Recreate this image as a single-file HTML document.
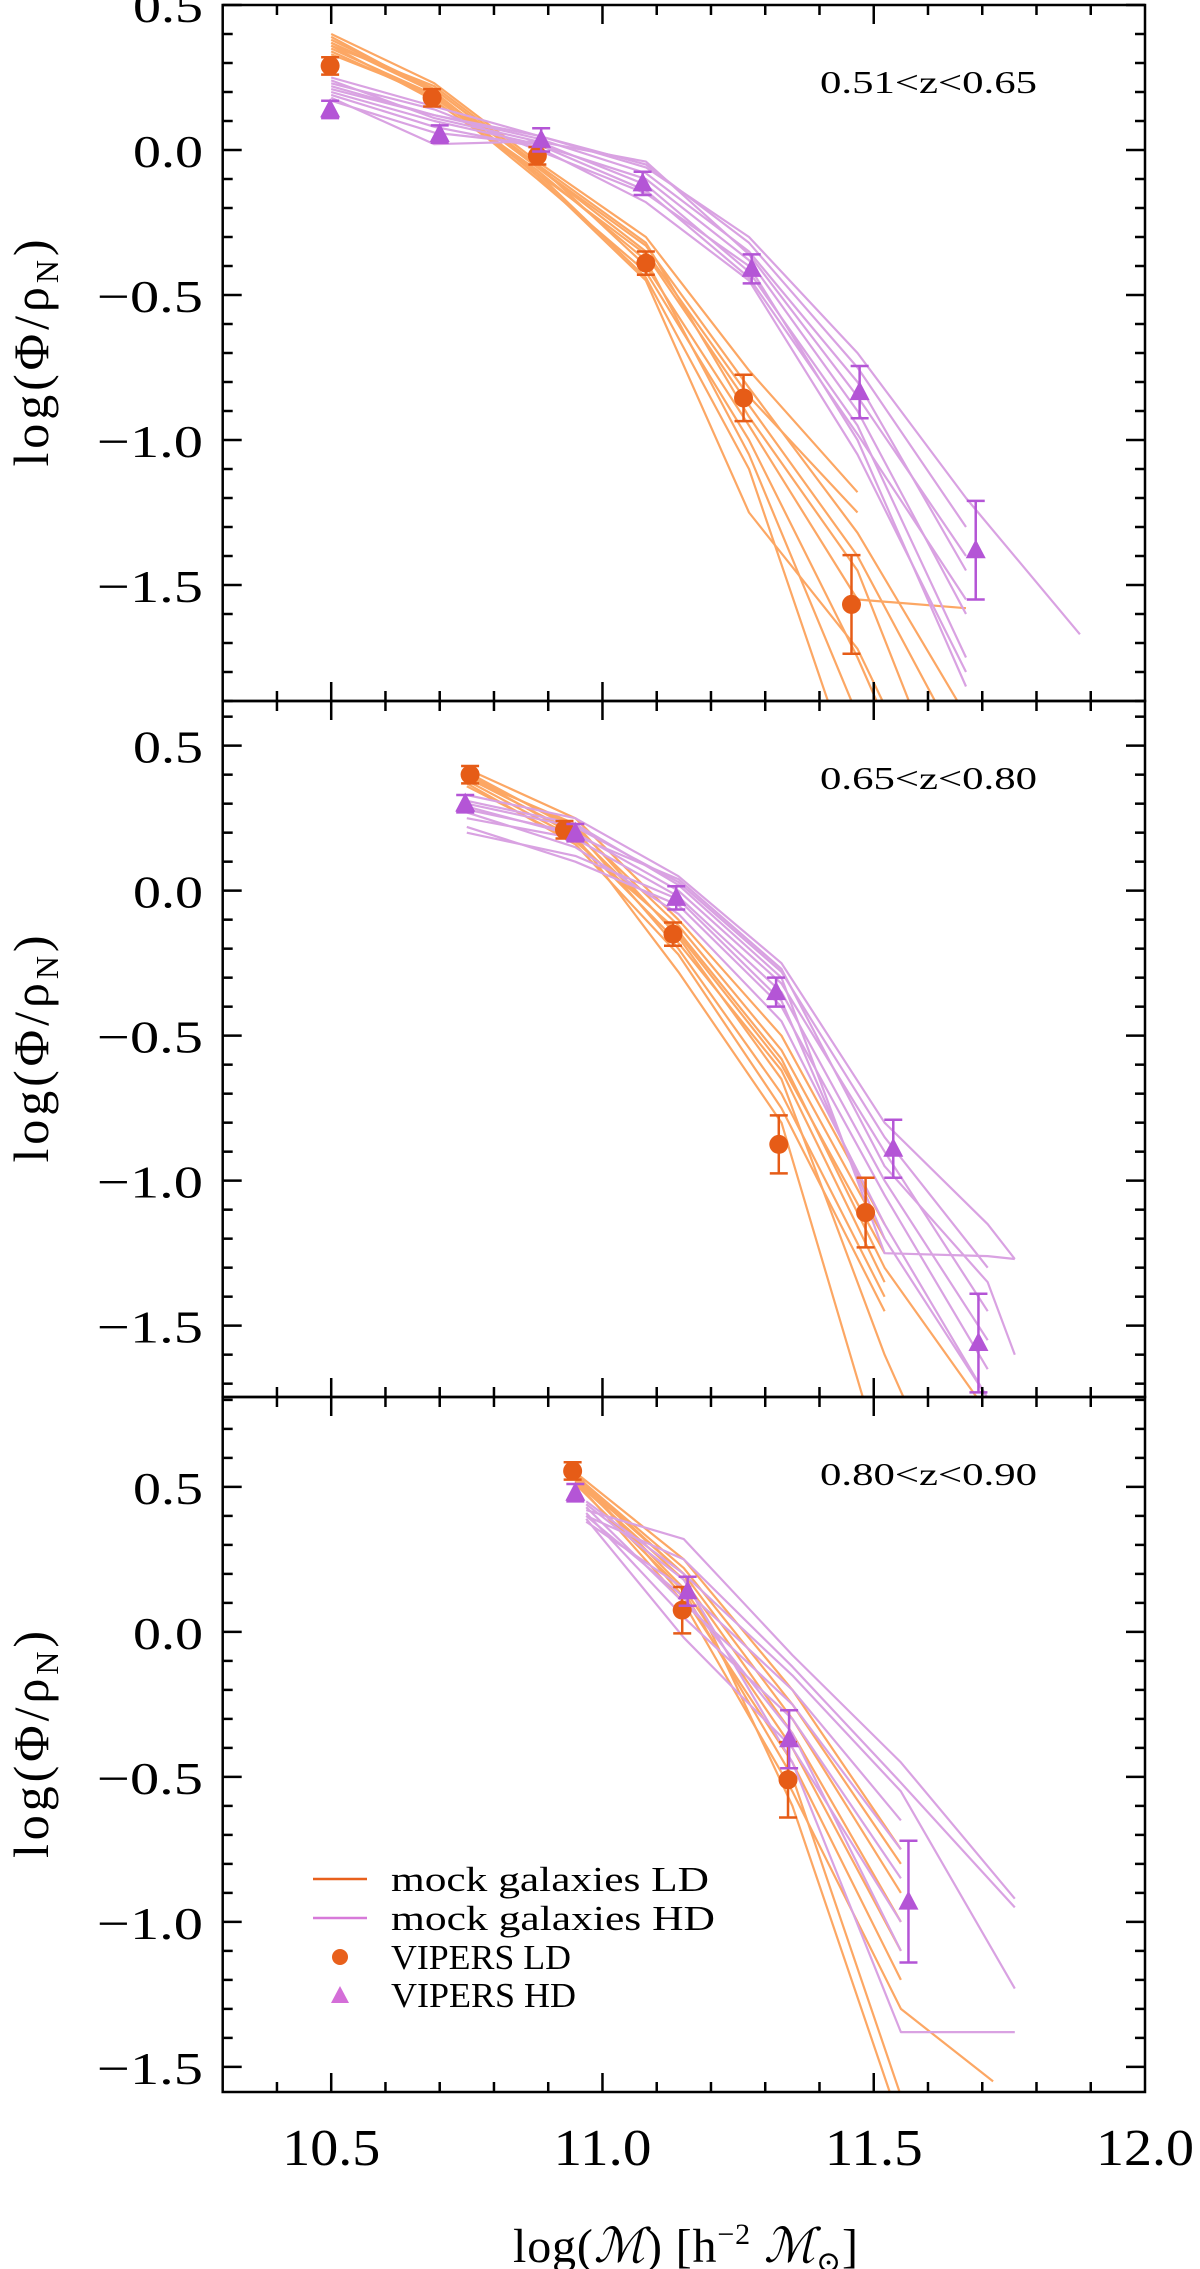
<!DOCTYPE html>
<html><head><meta charset="utf-8"><style>
html,body{margin:0;padding:0;background:#fff}
svg{display:block}
text{font-family:"Liberation Serif","DejaVu Serif",serif;fill:#000}
</style></head><body>
<svg id="chart" width="1200" height="2269" viewBox="0 0 1200 2269" xmlns="http://www.w3.org/2000/svg">
<defs>
<clipPath id="clip1"><rect x="223" y="5" width="922" height="696"/></clipPath>
<clipPath id="clip2"><rect x="223" y="701" width="922" height="696"/></clipPath>
<clipPath id="clip3"><rect x="223" y="1397" width="922" height="695"/></clipPath>
</defs>
<g id="layer"></g>
</svg>
<script>
// ---- data ----
const zLabels = ["0.51<z<0.65", "0.65<z<0.80", "0.80<z<0.90"];
const yTickVals = [0.5, 0.0, -0.5, -1.0, -1.5];
const yTickLabels = ["0.5", "0.0", "\u22120.5", "\u22121.0", "\u22121.5"];
const xTickVals = [10.5, 11.0, 11.5, 12.0];
const xTickLabels = ["10.5", "11.0", "11.5", "12.0"];

// panel 1
const p1LDx = [10.498, 10.686, 10.88, 11.08, 11.26, 11.459];
const p1LDy = [0.29, 0.18, -0.02, -0.39, -0.855, -1.567];
const p1LDerr = [0.03, 0.03, 0.03, 0.04, 0.08, 0.17];
const p1HDx = [10.498, 10.70, 10.887, 11.074, 11.275, 11.474, 11.688];
const p1HDy = [0.14, 0.055, 0.035, -0.115, -0.41, -0.835, -1.38];
const p1HDerr = [0.03, 0.03, 0.04, 0.04, 0.05, 0.09, 0.17];
const p1MockLDx = [10.5, 10.69, 10.88, 11.08, 11.27, 11.47, 11.67];
const p1MockLD = [
 [0.40,0.23,-0.04,-0.30,-0.76,-1.18,null],
 [0.38,0.21,-0.06,-0.33,-0.82,-1.32,-1.95],
 [0.37,0.20,-0.08,-0.36,-0.88,-1.40,-2.10],
 [0.36,0.22,-0.05,-0.40,-0.95,-1.55,-1.58],
 [0.35,0.19,-0.10,-0.42,-1.00,-1.75,-2.6],
 [0.34,0.18,-0.07,-0.38,-1.05,-1.95,-2.8],
 [0.39,0.20,-0.09,-0.45,-1.25,-1.72,-2.5],
 [0.37,0.21,-0.06,-0.35,-0.85,-1.25,null],
 [0.33,0.19,-0.05,-0.32,-0.92,-1.45,-2.4],
 [0.36,0.17,-0.08,-0.44,-1.10,-2.2,null]
];
const p1MockHDx = [10.5, 10.69, 10.88, 11.08, 11.27, 11.47, 11.67, 11.88];
const p1MockHD = [
 [0.25,0.15,0.05,-0.05,-0.32,-0.75,-1.30,null],
 [0.22,0.12,0.04,-0.08,-0.35,-0.80,-1.45,null],
 [0.20,0.10,0.02,-0.10,-0.38,-0.90,-1.60,null],
 [0.18,0.02,0.03,-0.12,-0.42,-0.95,-1.75,null],
 [0.23,0.14,0.00,-0.15,-0.40,-1.00,-1.85,null],
 [0.19,0.08,0.01,-0.18,-0.45,-1.05,-1.80,null],
 [0.21,0.12,0.05,-0.06,-0.30,-0.70,-1.20,-1.67],
 [0.17,0.06,0.02,-0.14,-0.44,-0.98,-1.55,null],
 [0.24,0.11,0.03,-0.04,-0.36,-0.85,-1.40,null]
];

// panel 2
const p2LDx = [10.756, 10.93, 11.13, 11.325, 11.485];
const p2LDy = [0.40, 0.21, -0.15, -0.875, -1.11];
const p2LDerr = [0.03, 0.03, 0.04, 0.10, 0.12];
const p2HDx = [10.747, 10.95, 11.136, 11.32, 11.536, 11.693];
const p2HDy = [0.30, 0.20, -0.025, -0.35, -0.89, -1.56];
const p2HDerr = [0.03, 0.03, 0.04, 0.05, 0.10, 0.17];
const p2MockLDx = [10.75, 10.95, 11.14, 11.33, 11.52, 11.71];
const p2MockLD = [
 [0.42,0.25,-0.10,-0.50,-1.15,null],
 [0.40,0.22,-0.12,-0.55,-1.20,null],
 [0.39,0.20,-0.15,-0.60,-1.25,null],
 [0.38,0.18,-0.18,-0.62,-1.35,null],
 [0.41,0.21,-0.20,-0.70,-1.40,null],
 [0.37,0.16,-0.22,-0.75,-1.45,null],
 [0.40,0.19,-0.28,-0.80,-2.00,null],
 [0.36,0.17,-0.14,-0.58,-1.30,-1.80],
 [0.39,0.23,-0.16,-0.65,-1.60,-2.40]
];
const p2MockHDx = [10.75, 10.95, 11.14, 11.33, 11.52, 11.71, 11.76];
const p2MockHD = [
 [0.33,0.25,0.05,-0.25,-0.80,-1.15,-1.27],
 [0.30,0.22,0.03,-0.28,-0.85,-1.30,null],
 [0.28,0.20,0.00,-0.32,-0.90,-1.45,null],
 [0.25,0.18,-0.02,-0.35,-1.00,-1.55,null],
 [0.22,0.10,-0.05,-0.40,-1.05,-1.65,null],
 [0.27,0.15,-0.08,-0.45,-1.15,-1.75,null],
 [0.31,0.23,0.02,-0.30,-1.25,-1.26,-1.27],
 [0.20,0.12,-0.03,-0.38,-1.20,-1.75,null],
 [0.29,0.19,0.04,-0.27,-0.95,-1.35,-1.60]
];

// panel 3
const p3LDx = [10.945, 11.147, 11.342];
const p3LDy = [0.555, 0.075, -0.51];
const p3LDerr = [0.03, 0.08, 0.13];
const p3HDx = [10.95, 11.157, 11.344, 11.564];
const p3HDy = [0.48, 0.14, -0.37, -0.93];
const p3HDerr = [0.03, 0.05, 0.10, 0.21];
const p3MockLDx = [10.95, 11.15, 11.35, 11.55, 11.72];
const p3MockLD = [
 [0.55,0.25,-0.20,-0.75,null],
 [0.54,0.22,-0.25,-0.80,null],
 [0.53,0.20,-0.30,-0.90,null],
 [0.52,0.18,-0.35,-1.00,null],
 [0.53,0.15,-0.40,-1.10,null],
 [0.55,0.12,-0.45,-1.20,null],
 [0.52,0.10,-0.55,-1.30,-1.55],
 [0.54,0.20,-0.60,-1.70,null],
 [0.51,0.14,-0.50,-1.60,null]
];
const p3MockHDx = [10.97, 11.15, 11.35, 11.55, 11.76];
const p3MockHD = [
 [0.42,0.32,-0.08,-0.45,-0.92],
 [0.40,0.25,-0.12,-0.52,-0.95],
 [0.45,0.20,-0.15,-0.55,-1.23],
 [0.38,0.15,-0.20,-0.65,null],
 [0.43,0.10,-0.25,-0.75,null],
 [0.41,0.05,-0.30,-0.85,null],
 [0.39,-0.02,-0.40,-1.00,null],
 [0.44,0.18,-0.45,-1.38,-1.38],
 [0.40,0.12,-0.35,-1.10,null]
];

// ---- drawing ----
const NS = "http://www.w3.org/2000/svg";
const layer = document.getElementById("layer");
const X0 = 222.7, X1 = 1145, XMIN = 10.3, XMAX = 12.0;
const PXU = 290;
const panels = [
 {top:5, bot:701, vTop:0.5, clip:"clip1"},
 {top:701, bot:1397, vTop:0.654, clip:"clip2"},
 {top:1397, bot:2092, vTop:0.81, clip:"clip3"}
];
function xs(v){ return X0 + (v - XMIN) * (X1 - X0) / (XMAX - XMIN); }
function ysFor(p){ return v => p.top + (p.vTop - v) * PXU; }
function mk(tag, attrs, parent){
  const e = document.createElementNS(NS, tag);
  for (const k in attrs) e.setAttribute(k, attrs[k]);
  (parent || layer).appendChild(e);
  return e;
}
const C_LD = "#e65c17", C_HD = "#b455d6", C_MLD = "#fca764", C_MHD = "#d9a2e2";

function drawMock(g, xArr, rows, ys, color, name){
  rows.forEach((row, i) => {
    const pts = [];
    row.forEach((v, j) => { if (v !== null) pts.push(xs(xArr[j]).toFixed(1) + "," + ys(v).toFixed(1)); });
    const pl = mk("polyline", {points: pts.join(" "), fill:"none", stroke: color, "stroke-width": 2.2, "stroke-linejoin":"round"}, g);
    
    
  });
}
function drawErr(g, x, y, e, ys, color, name){
  const px = xs(x), y1 = ys(y + e), y2 = ys(y - e);
  const eg = mk("g", {stroke: color, "stroke-width": 2.5}, g);
  
  
  mk("line", {x1:px, y1:y1, x2:px, y2:y2}, eg);
  mk("line", {x1:px-9, y1:y1, x2:px+9, y2:y1}, eg);
  mk("line", {x1:px-9, y1:y2, x2:px+9, y2:y2}, eg);
}
function drawCircles(g, xArr, yArr, eArr, ys, pn){
  xArr.forEach((x, i) => {
    drawErr(g, x, yArr[i], eArr[i], ys, C_LD, 'ld-errorbar-p' + pn);
    const c = mk("circle", {cx: xs(x), cy: ys(yArr[i]), r: 9.5, fill: C_LD}, g);
    
    
  });
}
function drawTriangles(g, xArr, yArr, eArr, ys, pn){
  xArr.forEach((x, i) => {
    drawErr(g, x, yArr[i], eArr[i], ys, C_HD, 'hd-errorbar-p' + pn);
    const px = xs(x), py = ys(yArr[i]);
    const t = mk("polygon", {points: `${px-10},${py+8} ${px+10},${py+8} ${px},${py-11}`, fill: C_HD}, g);
    
    
  });
}
function drawAxes(p, idx){
  const ys = ysFor(p);
  const g = mk("g", {stroke:"#000", "stroke-width": 2.5});
  
  
  mk("rect", {x:X0, y:p.top, width:X1-X0, height:p.bot-p.top, fill:"none"}, g);
  const vBot = p.vTop - (p.bot - p.top) / PXU;
  for (let k = Math.ceil(vBot * 10 - 1e-6); k <= Math.floor(p.vTop * 10 + 1e-6); k++){
    const v = k / 10, y = ys(v);
    const major = Math.abs(k % 5) === 0;
    const L = major ? 19 : 10;
    mk("line", {x1:X0, y1:y, x2:X0+L, y2:y}, g);
    mk("line", {x1:X1, y1:y, x2:X1-L, y2:y}, g);
  }
  for (let k = 104; k <= 119; k++){
    const x = xs(k / 10), major = k % 5 === 0, L = major ? 19 : 10;
    mk("line", {x1:x, y1:p.bot, x2:x, y2:p.bot-L}, g);
    mk("line", {x1:x, y1:p.top, x2:x, y2:p.top+L}, g);
  }
  yTickVals.forEach((v, i) => {
    const neg = v < 0;
    const t = mk("text", {x: neg ? 97 : 133, y: ys(v) + 17, "font-size": 46, textLength: neg ? 106 : 70, lengthAdjust:"spacingAndGlyphs"});
    t.textContent = yTickLabels[i];
    
    
  });
  const cy = (p.top + p.bot) / 2;
  const yt = mk("text", {x: 0, y: 0, "text-anchor":"middle", "font-size": 50, textLength: 227, lengthAdjust:"spacing", transform:`translate(48,${cy}) rotate(-90)`});
  yt.innerHTML = 'log(\u03A6/\u03C1<tspan font-size="32" dy="10">N</tspan><tspan dy="-10">)</tspan>';
  
  
  const zl = mk("text", {x: 820, y: p.top + 88, "font-size": 32, textLength: 217, lengthAdjust:"spacingAndGlyphs"});
  zl.textContent = zLabels[idx];
  
  
}

const sets = [
 [p1MockLDx,p1MockLD,p1MockHDx,p1MockHD,p1LDx,p1LDy,p1LDerr,p1HDx,p1HDy,p1HDerr],
 [p2MockLDx,p2MockLD,p2MockHDx,p2MockHD,p2LDx,p2LDy,p2LDerr,p2HDx,p2HDy,p2HDerr],
 [p3MockLDx,p3MockLD,p3MockHDx,p3MockHD,p3LDx,p3LDy,p3LDerr,p3HDx,p3HDy,p3HDerr]
];
panels.forEach((p, i) => {
  const ys = ysFor(p);
  const s = sets[i];
  const g = mk("g", {"clip-path": `url(#${p.clip})`});
  
  
  drawMock(g, s[0], s[1], ys, C_MLD, 'mock-ld-line');
  drawMock(g, s[2], s[3], ys, C_MHD, 'mock-hd-line');
  drawCircles(g, s[4], s[5], s[6], ys, i + 1);
  drawTriangles(g, s[7], s[8], s[9], ys, i + 1);
  drawAxes(p, i);
});

xTickVals.forEach((v, i) => {
  const t = mk("text", {x: xs(v) - 49, y: 2165, "font-size": 52, textLength: 98, lengthAdjust:"spacingAndGlyphs"});
  t.textContent = xTickLabels[i];
  
  
});
const xt = mk("text", {x: 513, y: 2262, "font-size": 48, textLength: 345, lengthAdjust:"spacing"});
xt.innerHTML = 'log(<tspan font-style="italic">\u2133</tspan>)  [h<tspan font-size="30" dy="-18">\u22122</tspan><tspan dy="18"> </tspan><tspan font-style="italic">\u2133</tspan><tspan font-size="30" dy="10">\u2299</tspan><tspan dy="-10">]</tspan>';



const lg = mk("g", {});


const legendLabels = ["mock galaxies LD", "mock galaxies HD", "VIPERS LD", "VIPERS HD"];
const legendY = [1879, 1918, 1957, 1995];
const legendLen = [318, 324, 180, 185];
const l1 = mk("line", {x1:313, y1:legendY[0], x2:367, y2:legendY[0], stroke:"#e8601c", "stroke-width":2.5}, lg);


const l2 = mk("line", {x1:313, y1:legendY[1], x2:367, y2:legendY[1], stroke:"#d77ad9", "stroke-width":2.5}, lg);


const l3 = mk("circle", {cx:340, cy:legendY[2], r:8, fill:"#e8601c"}, lg);


const l4 = mk("polygon", {points:`331,${legendY[3]+8} 349,${legendY[3]+8} 340,${legendY[3]-9}`, fill:"#d46ed8"}, lg);


legendLabels.forEach((s, i) => {
  const t = mk("text", {x:391, y: legendY[i] + 12, "font-size": 35, textLength: legendLen[i], lengthAdjust:"spacingAndGlyphs"}, lg);
  t.textContent = s;
  
  
});
</script>
</body></html>
